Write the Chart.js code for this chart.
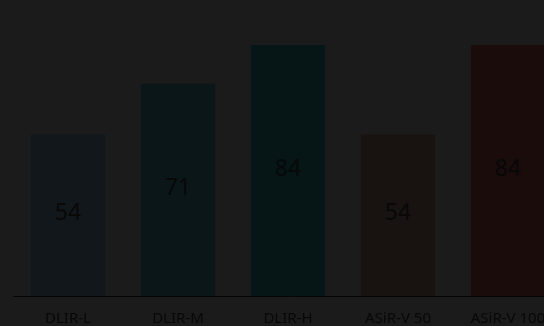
<!DOCTYPE html>
<html><head><meta charset="utf-8">
<script src="https://cdn.jsdelivr.net/npm/chart.js@4"></script>
<style>
html,body{margin:0;padding:0;background:#1b1b1b;overflow:hidden;width:544px;height:326px;}
#wrap{width:575px;height:326px;position:relative;}
</style></head><body>
<div id="wrap"><canvas id="c"></canvas></div>
<script>
const categories = ["DLIR-L", "DLIR-M", "DLIR-H", "ASiR-V 50", "ASiR-V 100"];
const values = [54, 71, 84, 54, 84];
const barColors = ["#11171a", "#0b1618", "#061516", "#181311", "#190c0b"];

const valueLabels = {
  id: 'valueLabels',
  afterDatasetsDraw(chart) {
    const ctx = chart.ctx;
    const meta = chart.getDatasetMeta(0);
    ctx.save();
    ctx.fillStyle = '#080808';
    ctx.font = '23px "Noto Sans"';
    ctx.textAlign = 'center';
    ctx.textBaseline = 'middle';
    meta.data.forEach((bar, i) => {
      const y = (bar.y + bar.base) / 2 - 1.5;
      ctx.fillText(String(values[i]), bar.x, y);
    });
    ctx.restore();
  }
};

new Chart(document.getElementById('c'), {
  type: 'bar',
  data: {
    labels: categories,
    datasets: [{ data: values, backgroundColor: barColors, borderWidth: 0,
      categoryPercentage: 1, barPercentage: 0.673 }]
  },
  options: {
    responsive: true,
    maintainAspectRatio: false,
    animation: false,
    layout: { padding: { left: 13, right: 12, top: 27, bottom: 0 } },
    plugins: { legend: { display: false }, tooltip: { enabled: false } },
    scales: {
      x: {
        grid: { display: false, drawTicks: false },
        border: { display: true, color: '#050505', width: 1 },
        ticks: { color: '#080808', font: { family: '"Noto Sans"', size: 15 }, padding: 14, maxRotation: 0, autoSkip: false },
        afterFit(scale) { scale.height = 30; }
      },
      y: {
        display: false,
        min: 0, max: 90
      }
    }
  },
  plugins: [valueLabels]
});
</script>
</body></html>
